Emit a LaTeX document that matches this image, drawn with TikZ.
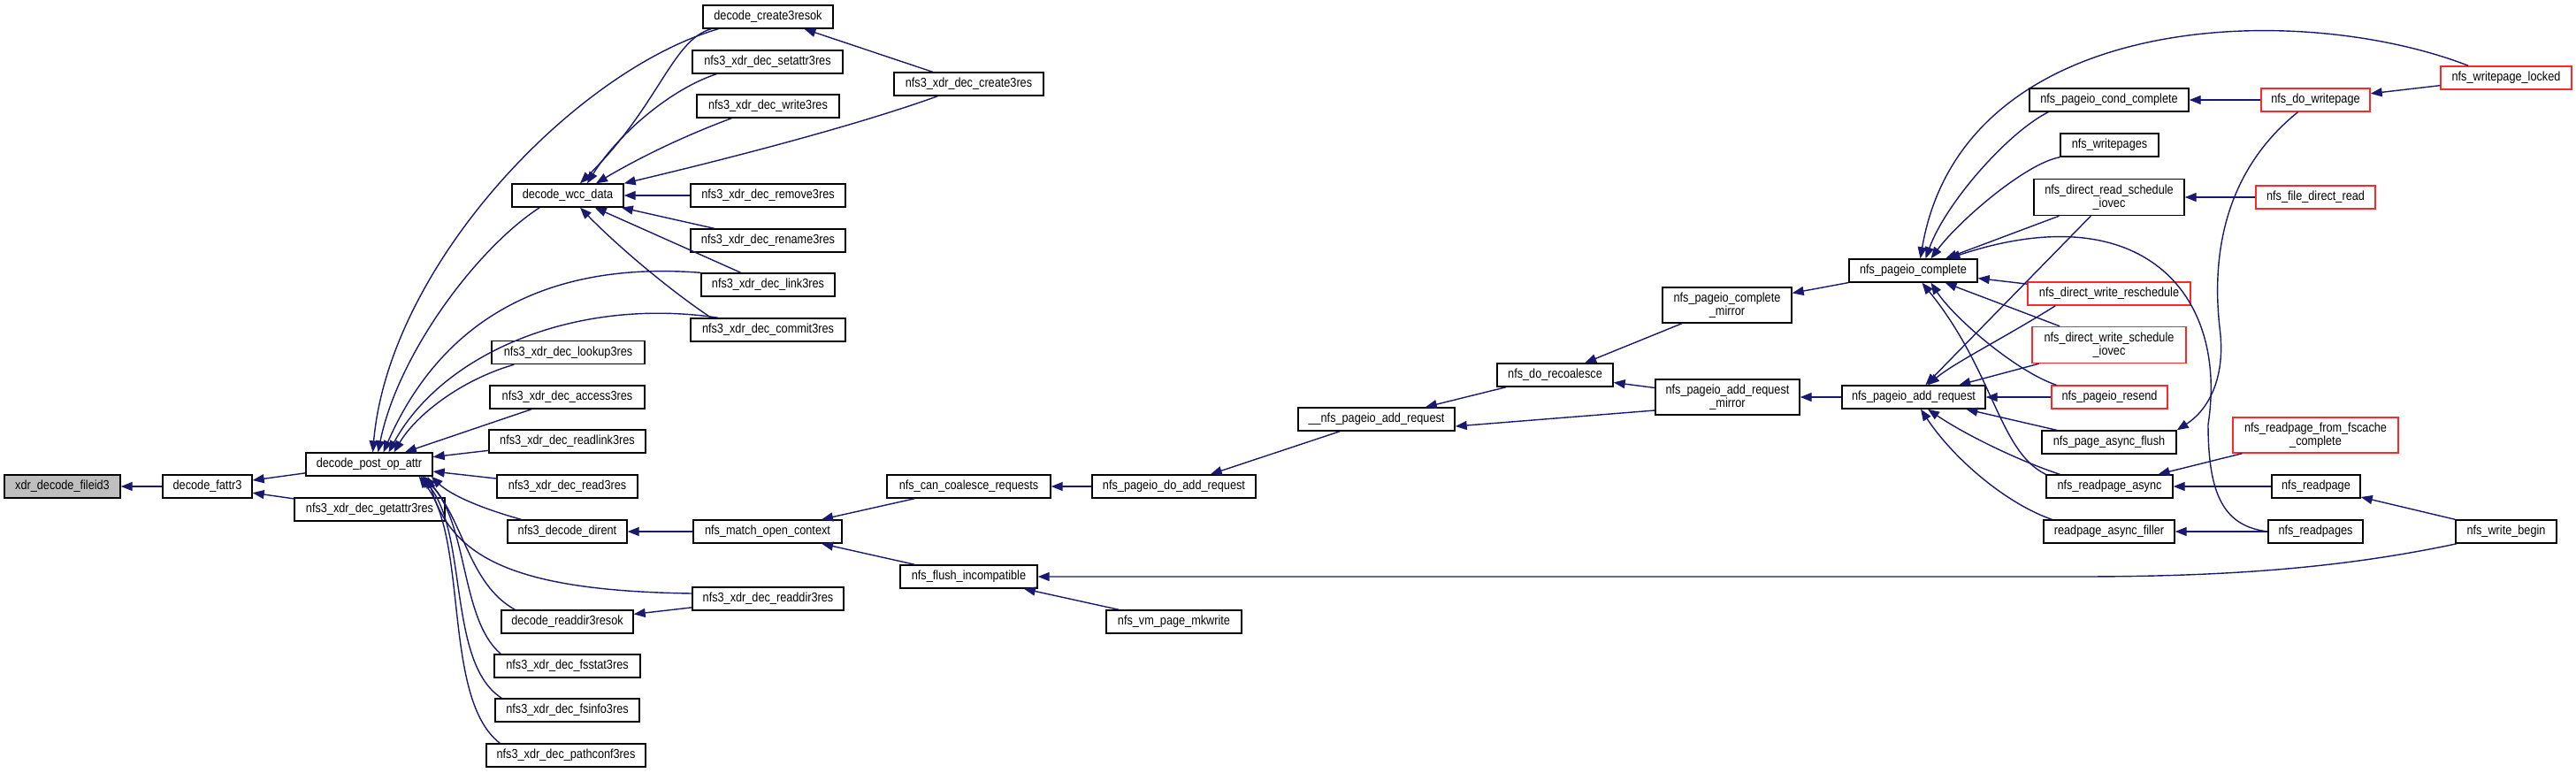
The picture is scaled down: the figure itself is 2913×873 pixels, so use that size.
\documentclass[tikz,border=0pt]{standalone}
\usepackage{fontspec}
\usetikzlibrary{arrows.meta}
\newfontfamily\nodefont[FakeStretch=0.87]{Liberation Sans}
\newcommand\nfont{\nodefont\fontsize{7.3pt}{7.6pt}\selectfont}
\definecolor{midblue}{RGB}{25,25,112}
\definecolor{redline}{RGB}{255,40,40}
\tikzset{
  nb/.style={draw=black, fill=white, line width=0.7pt, inner sep=0pt, minimum height=13pt, font=\nfont, align=center},
  rb/.style={nb, draw=redline},
  gb/.style={nb, fill=black!25},
  cline/.style={draw=midblue, line width=0.7pt, -{Triangle[length=6.5pt,width=5pt]}},
}
\begin{document}
\begin{tikzpicture}[x=0.5pt,y=-0.5pt]
\fill[white] (0,0) rectangle (2913,873);
\useasboundingbox (0,0) rectangle (2913,873);

% nodes
\node[gb, minimum width=65.5pt] (fileid) at (70.5,550) {xdr\_decode\_fileid3};
\node[nb, minimum width=50.5pt] (fattr) at (234.5,550) {decode\_fattr3};
\node[nb, minimum width=71.5pt] (postop) at (417.5,525) {decode\_post\_op\_attr};
\node[nb, minimum width=85pt] (getattr) at (418,576) {nfs3\_xdr\_dec\_getattr3res};
\node[nb, minimum width=73.5pt] (c3ok) at (868.5,19) {decode\_create3resok};
\node[nb, minimum width=85pt] (setattr) at (868,70) {nfs3\_xdr\_dec\_setattr3res};
\node[nb, minimum width=80.5pt] (write3) at (868.5,120) {nfs3\_xdr\_dec\_write3res};
\node[nb, minimum width=63pt] (wcc) at (642,221) {decode\_wcc\_data};
\node[nb, minimum width=87.5pt] (remove3) at (868.5,221) {nfs3\_xdr\_dec\_remove3res};
\node[nb, minimum width=87.5pt] (rename3) at (868.5,272) {nfs3\_xdr\_dec\_rename3res};
\node[nb, minimum width=75.5pt] (link3) at (868.5,322) {nfs3\_xdr\_dec\_link3res};
\node[nb, minimum width=87.5pt] (commit3) at (868.5,373) {nfs3\_xdr\_dec\_commit3res};
\node[nb, minimum width=84.5pt] (create3) at (1095.5,95) {nfs3\_xdr\_dec\_create3res};
\node[nb, minimum width=86.5pt] (lookup3) at (642.5,398.5) {nfs3\_xdr\_dec\_lookup3res};
\node[nb, minimum width=87.5pt] (access3) at (641.5,449) {nfs3\_xdr\_dec\_access3res};
\node[nb, minimum width=88.5pt] (readlink3) at (641.5,499) {nfs3\_xdr\_dec\_readlink3res};
\node[nb, minimum width=79.5pt] (read3) at (641.5,550) {nfs3\_xdr\_dec\_read3res};
\node[nb, minimum width=67.5pt] (dirent) at (641.5,601) {nfs3\_decode\_dirent};
\node[nb, minimum width=74.5pt] (rd3ok) at (641.5,703) {decode\_readdir3resok};
\node[nb, minimum width=82.5pt] (fsstat3) at (641.5,753) {nfs3\_xdr\_dec\_fsstat3res};
\node[nb, minimum width=81.5pt] (fsinfo3) at (641.5,803) {nfs3\_xdr\_dec\_fsinfo3res};
\node[nb, minimum width=90pt] (pathconf3) at (640,854) {nfs3\_xdr\_dec\_pathconf3res};
\node[nb, minimum width=84pt] (match) at (868,601) {nfs\_match\_open\_context};
\node[nb, minimum width=85.5pt] (readdir3) at (868.5,677) {nfs3\_xdr\_dec\_readdir3res};
\node[nb, minimum width=92.5pt] (cancoal) at (1095.5,550) {nfs\_can\_coalesce\_requests};
\node[nb, minimum width=77.5pt] (flush) at (1095.5,652) {nfs\_flush\_incompatible};
\node[nb, minimum width=92.5pt] (doadd) at (1327.5,550) {nfs\_pageio\_do\_add\_request};
\node[nb, minimum width=76.5pt] (mkwrite) at (1327.5,703) {nfs\_vm\_page\_mkwrite};
\node[nb, minimum width=88.5pt] (uuadd) at (1556.5,474) {\_\_nfs\_pageio\_add\_request};
\node[nb, minimum width=65.5pt] (recoal) at (1758.5,424) {nfs\_do\_recoalesce};
\node[nb, minimum width=73pt, minimum height=20pt] (compmirror) at (1953,345) {nfs\_pageio\_complete\\\_mirror};
\node[nb, minimum width=81.5pt, minimum height=20pt] (addmirror) at (1953.5,449) {nfs\_pageio\_add\_request\\\_mirror};
\node[nb, minimum width=72.5pt] (complete) at (2163.5,306) {nfs\_pageio\_complete};
\node[nb, minimum width=81pt] (addreq) at (2164,449) {nfs\_pageio\_add\_request};
\node[nb, minimum width=90pt] (condcomp) at (2385,113) {nfs\_pageio\_cond\_complete};
\node[nb, minimum width=55.5pt] (writepages) at (2385.5,164) {nfs\_writepages};
\node[nb, minimum width=85pt, minimum height=20.5pt] (drsi) at (2385,223) {nfs\_direct\_read\_schedule\\\_iovec};
\node[rb, minimum width=92pt] (dwr) at (2385,332) {nfs\_direct\_write\_reschedule};
\node[rb, minimum width=87pt, minimum height=20.5pt] (dwsi) at (2385,390) {nfs\_direct\_write\_schedule\\\_iovec};
\node[rb, minimum width=65.5pt] (resend) at (2385.5,449) {nfs\_pageio\_resend};
\node[nb, minimum width=76pt] (asyncflush) at (2385,500) {nfs\_page\_async\_flush};
\node[nb, minimum width=71.5pt] (rpasync) at (2385.5,550) {nfs\_readpage\_async};
\node[nb, minimum width=74pt] (filler) at (2385,601) {readpage\_async\_filler};
\node[rb, minimum width=61.5pt] (dowp) at (2618.5,113) {nfs\_do\_writepage};
\node[rb, minimum width=74pt] (wplocked) at (2834,88) {nfs\_writepage\_locked};
\node[rb, minimum width=67.5pt] (fdr) at (2618.5,223) {nfs\_file\_direct\_read};
\node[rb, minimum width=93.5pt, minimum height=20pt] (fscache) at (2618.5,492) {nfs\_readpage\_from\_fscache\\\_complete};
\node[nb, minimum width=50pt] (readpage) at (2619,550) {nfs\_readpage};
\node[nb, minimum width=53.5pt] (readpages) at (2618.5,601) {nfs\_readpages};
\node[nb, minimum width=57pt] (wbegin) at (2834,601) {nfs\_write\_begin};

% edges: left part
\draw[cline] (fattr) -- (fileid);
\draw[cline] (postop) -- (fattr);
\draw[cline] (getattr) -- (fattr);
\draw[cline] ([xshift=9pt]c3ok.south west) .. controls (650,80) and (440,300) .. ([xshift=2pt]postop.north);
\draw[cline] ([xshift=16pt]wcc.south west) .. controls (540,280) and (450,400) .. ([xshift=5pt]postop.north);
\draw[cline] (link3.north west) .. controls (620,295) and (500,360) .. ([xshift=8pt]postop.north);
\draw[cline] ([xshift=16pt]commit3.north west) .. controls (650,335) and (500,400) .. ([xshift=11pt]postop.north);
\draw[cline] ([xshift=13pt]lookup3.south west) .. controls (520,430) and (470,470) .. ([xshift=14pt]postop.north);
\draw[cline] (access3) -- (postop);
\draw[cline] (readlink3) -- (postop);
\draw[cline] (read3) -- (postop);
\draw[cline] ([xshift=8pt]dirent.north west) .. controls (545,575) and (510,560) .. ([xshift=-1pt]postop.south east);
\draw[cline] ([yshift=3pt]readdir3.west) .. controls (580,668) and (510,630) .. ([xshift=-3pt]postop.south east);
\draw[cline] ([xshift=8pt]rd3ok.north west) .. controls (530,660) and (525,590) .. ([xshift=-5pt]postop.south east);
\draw[cline] ([xshift=4pt]fsstat3.north west) .. controls (520,700) and (530,590) .. ([xshift=-6pt]postop.south east);
\draw[cline] ([xshift=4pt]fsinfo3.north west) .. controls (505,750) and (530,600) .. ([xshift=-7pt]postop.south east);
\draw[cline] ([xshift=8pt]pathconf3.north west) .. controls (500,790) and (530,610) .. ([xshift=-8pt]postop.south east);

\draw[cline] ([xshift=5pt]c3ok.south west) .. controls (760,45) and (745,120) .. ([xshift=7pt]wcc.north);
\draw[cline] ([xshift=14pt]setattr.south west) .. controls (760,100) and (700,150) .. ([xshift=11pt]wcc.north);
\draw[cline] ([xshift=20pt]write3.south west) .. controls (770,155) and (720,180) .. ([xshift=16pt]wcc.north);
\draw[cline] ([xshift=25pt]create3.south west) .. controls (960,145) and (800,185) .. (wcc.north east);
\draw[cline] (remove3) -- (wcc);
\draw[cline] (rename3) -- (wcc);
\draw[cline] (link3) -- (wcc);
\draw[cline] ([xshift=12pt]commit3.north west) .. controls (760,330) and (700,280) .. ([xshift=7pt]wcc.south);
\draw[cline] (create3) -- (c3ok);

% middle
\draw[cline] (match) -- (dirent);
\draw[cline] (readdir3) -- (rd3ok);
\draw[cline] (cancoal) -- (match);
\draw[cline] (flush) -- (match);
\draw[cline] (doadd) -- (cancoal);
\draw[cline] (mkwrite) -- (flush);
\draw[cline] ([xshift=1pt]wbegin.south west) .. controls (2650,642) and (2520,652) .. (2350,652) -- (flush.east);
\draw[cline] (uuadd) -- (doadd);
\draw[cline] (recoal) -- (uuadd);
\draw[cline] ([yshift=-7.5pt]addmirror.west) -- ([yshift=-4pt]uuadd.east);
\draw[cline] (compmirror) -- (recoal);
\draw[cline] (addmirror) -- (recoal);
\draw[cline] (complete) -- (compmirror);
\draw[cline] (addreq) -- (addmirror);

% callers of nfs_pageio_complete
\draw[cline] ([xshift=16pt]wplocked.north west) .. controls (2600,0) and (2220,10) .. ([xshift=4pt]complete.north);
\draw[cline] ([xshift=11pt]condcomp.south west) .. controls (2270,150) and (2200,230) .. ([xshift=7pt]complete.north);
\draw[cline] (writepages.south west) .. controls (2290,185) and (2215,250) .. ([xshift=10pt]complete.north);
\draw[cline] (drsi) -- (complete);
\draw[cline] (readpages.west) .. controls (2515,595) and (2497,560) .. (2497,480) .. controls (2520,330) and (2420,220) .. ([xshift=20pt]complete.north);
\draw[cline] (dwr) -- (complete);
\draw[cline] (dwsi) -- (complete);
\draw[cline] ([xshift=3pt]resend.north west) .. controls (2280,420) and (2210,360) .. ([xshift=10pt]complete.south);
\draw[cline] (rpasync.north west) .. controls (2260,510) and (2255,420) .. ([xshift=5pt]complete.south);

% callers of nfs_pageio_add_request
\draw[cline] (drsi) -- (addreq);
\draw[cline] ([xshift=16pt]dwr.south west) .. controls (2270,380) and (2210,410) .. ([xshift=8pt]addreq.north);
\draw[cline] (dwsi) -- (addreq);
\draw[cline] (resend) -- (addreq);
\draw[cline] (asyncflush) -- (addreq);
\draw[cline] ([xshift=8pt]rpasync.north west) .. controls (2280,520) and (2220,490) .. ([xshift=8pt]addreq.south);
\draw[cline] ([xshift=5pt]filler.north west) .. controls (2270,570) and (2210,520) .. ([xshift=4pt]addreq.south);

% right part
\draw[cline] (dowp) -- (condcomp);
\draw[cline] (wplocked) -- (dowp);
\draw[cline] ([xshift=-10pt]dowp.south) .. controls (2520,190) and (2500,280) .. (2510,370) .. controls (2518,430) and (2495,465) .. (asyncflush.north east);
\draw[cline] (fdr) -- (drsi);
\draw[cline] (fscache) -- (rpasync);
\draw[cline] (readpage) -- (rpasync);
\draw[cline] (readpages) -- (filler);
\draw[cline] (wbegin) -- (readpage);
\end{tikzpicture}
\end{document}
